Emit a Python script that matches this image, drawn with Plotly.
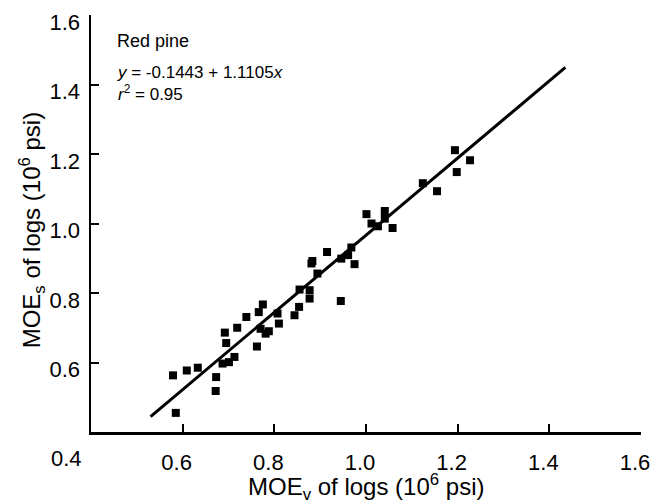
import plotly.graph_objects as go

# Data (MOEv, MOEs in 10^6 psi)
moe_v = [0.579, 0.609, 0.633, 0.585, 0.673, 0.672, 0.687, 0.701, 0.713, 0.695,
         0.692, 0.719, 0.739, 0.762, 0.766, 0.775, 0.770, 0.781, 0.788, 0.807,
         0.810, 0.844, 0.854, 0.855, 0.877, 0.877, 0.945, 0.894, 0.881, 0.883,
         0.915, 0.968, 0.961, 0.975, 0.946, 1.001, 1.012, 1.026, 1.041, 1.041,
         1.058, 1.194, 1.227, 1.198, 1.124, 1.155]
moe_s = [0.563, 0.577, 0.585, 0.455, 0.558, 0.518, 0.597, 0.601, 0.616, 0.656,
         0.686, 0.700, 0.731, 0.646, 0.745, 0.767, 0.697, 0.683, 0.690, 0.741,
         0.712, 0.736, 0.760, 0.810, 0.808, 0.784, 0.777, 0.856, 0.885, 0.892,
         0.918, 0.931, 0.909, 0.883, 0.899, 1.027, 1.000, 0.992, 1.036, 1.014,
         0.987, 1.211, 1.182, 1.148, 1.116, 1.093]

# Regression: y = a + b x
intercept = -0.1443
slope = 1.1105
fit_x = [0.53, 1.435]
fit_y = [intercept + slope * v for v in fit_x]

x_tick_vals = [0.4, 0.6, 0.8, 1.0, 1.2, 1.4, 1.6]
x_tick_text = ["0.4", "0.6", "0.8", "1.0", "1.2", "1.4", "1.6"]
y_tick_vals = [0.6, 0.8, 1.0, 1.2, 1.4, 1.6]
y_tick_text = ["0.6", "0.8", "1.0", "1.2", "1.4", "1.6"]

species_label = "Red pine"
fit_label = "<i>y</i> = -0.1443 + 1.1105<i>x</i><br><i>r</i><sup>2</sup> = 0.95"
x_title = "MOE<sub>v</sub> of logs (10<sup>6</sup> psi)"
y_title = "MOE<sub>s</sub> of logs (10<sup>6</sup> psi)"

FONT = "Liberation Sans, Arial, Helvetica, sans-serif"
BLACK = "black"

fig = go.Figure()
fig.add_trace(go.Scatter(x=moe_v, y=moe_s, mode="markers",
                         marker=dict(symbol="square", size=8, color=BLACK,
                                     line=dict(width=0)),
                         showlegend=False))
fig.add_trace(go.Scatter(x=fit_x, y=fit_y, mode="lines",
                         line=dict(color=BLACK, width=3),
                         showlegend=False))

# In-plot labels
fig.add_annotation(x=0.452, y=1.524, xref="x", yref="y", text=species_label,
                   showarrow=False, xanchor="left", yanchor="middle",
                   font=dict(family=FONT, size=18, color=BLACK))
fig.add_annotation(x=0.452, y=1.404, xref="x", yref="y", text=fit_label,
                   showarrow=False, xanchor="left", yanchor="middle", align="left",
                   font=dict(family=FONT, size=17, color=BLACK))

# Axis titles
fig.add_annotation(x=0.5, y=-0.132, xref="paper", yref="paper", text=x_title,
                   showarrow=False, xanchor="center", yanchor="middle",
                   font=dict(family=FONT, size=24, color=BLACK))
fig.add_annotation(x=-0.107, y=0.484, xref="paper", yref="paper", text=y_title,
                   showarrow=False, xanchor="center", yanchor="middle",
                   textangle=-90, font=dict(family=FONT, size=24, color=BLACK))
# leftmost x tick label sits left of the axis corner in the reference
fig.add_annotation(x=-0.044, y=-0.064, xref="paper", yref="paper",
                   text=x_tick_text[0], showarrow=False,
                   xanchor="center", yanchor="middle",
                   font=dict(family=FONT, size=22, color=BLACK))

axis_common = dict(
    range=[0.4, 1.6],
    showgrid=False, zeroline=False, showline=True, linecolor=BLACK,
    linewidth=2.5, ticks="inside", ticklen=8, tickwidth=2, tickcolor=BLACK,
    tickfont=dict(family=FONT, size=22, color=BLACK),
)

fig.update_xaxes(**axis_common, tickvals=x_tick_vals,
                 ticktext=[""] + x_tick_text[1:],
                 ticklabelshift=-6, ticklabelstandoff=9)
fig.update_yaxes(**axis_common, tickvals=y_tick_vals, ticktext=y_tick_text,
                 ticklabelshift=7, ticklabelstandoff=4)

fig.update_layout(width=662, height=504,
                  margin=dict(l=91, r=21, t=15, b=72, autoexpand=False),
                  paper_bgcolor="white", plot_bgcolor="white")

fig.write_html("out.html",
               config={"displayModeBar": False, "staticPlot": True},
               post_script="document.body.style.margin='0';"
                           "document.body.style.overflow='hidden';")
